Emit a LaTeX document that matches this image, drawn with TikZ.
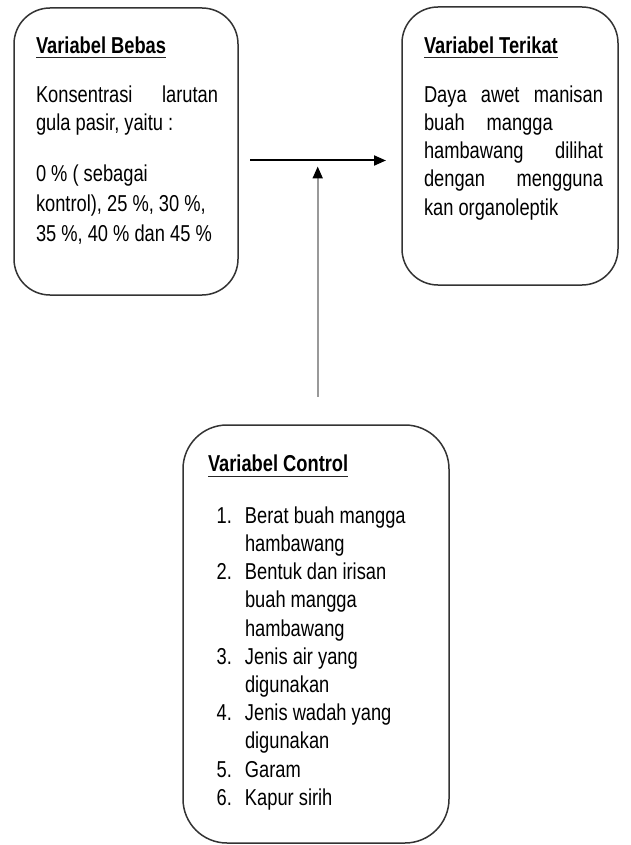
\documentclass[tikz,border=0pt]{standalone}
\usepackage{fontspec}
\setmainfont{Liberation Sans}[FakeStretch=0.795]
\usetikzlibrary{arrows.meta}
\begin{document}
\begin{tikzpicture}[x=1pt,y=1pt,
  box/.style={draw=black!80, line width=1.5pt, rounded corners=#1, inner sep=0pt, outer sep=0pt, anchor=north west},
  txt/.style={inner sep=0pt, outer sep=0pt, anchor=base west, font=\fontsize{23}{28.2}\selectfont},
  ttl/.style={txt, font=\fontsize{23}{28.2}\selectfont\bfseries},
  uline/.style={line width=1.5pt, black!85},
  harrow/.style={line width=2pt, -{Triangle[length=12pt,width=10pt]}},
  varrow/.style={line width=2pt, black!40, -{Triangle[length=12pt,width=10pt,color=black]}}
]
\useasboundingbox (0,0) rectangle (630,-845);
\fill[white] (0,0) rectangle (630,-845);

% boxes
\node[box=36pt, minimum width=224pt, minimum height=287pt] (bebas) at (14,-8) {};
\node[box=36pt, minimum width=216pt, minimum height=278pt] (terikat) at (402,-7) {};
\node[box=44pt, minimum width=266pt, minimum height=418pt] (control) at (183,-425) {};

% Variabel Bebas
\node[ttl] (t1) at (36,-53.3) {Variabel Bebas};
\draw[uline] ([yshift=-4pt]t1.base west) -- ([yshift=-4pt]t1.base east);
\node[txt] (b1) at (36,-102.3) {\begin{tabular}[t]{@{}l@{}}\hbox to 182pt{Konsentrasi\hfill larutan}\\ gula pasir, yaitu :\end{tabular}};
\node[txt, font=\fontsize{23}{29.5}\selectfont] (b2) at (36,-182) {\begin{tabular}[t]{@{}l@{}}0 \% ( sebagai\\ kontrol), 25 \%, 30 \%,\\ 35 \%, 40 \% dan 45 \%\end{tabular}};

% Variabel Terikat
\node[ttl] (t2) at (424,-53.3) {Variabel Terikat};
\draw[uline] ([yshift=-4pt]t2.base west) -- ([yshift=-4pt]t2.base east);
\node[txt] (d1) at (424,-102.3) {\begin{tabular}[t]{@{}l@{}}\hbox to 179pt{Daya\hfill awet\hfill manisan}\\
 \hbox to 179pt{buah\hskip 22pt mangga\hfill}\\
 \hbox to 179pt{hambawang\hfill dilihat}\\
 \hbox to 179pt{dengan\hfill mengguna}\\
 kan organoleptik\end{tabular}};

% Variabel Control
\node[ttl] (t3) at (208,-471.7) {Variabel Control};
\draw[uline] ([yshift=-5pt]t3.base west) -- ([yshift=-5pt]t3.base east);
\node[txt] (c1) at (216.7,-523.3) {\begin{tabular}[t]{@{}p{28.3pt}@{}l@{}}
1. & Berat buah mangga\\
   & hambawang\\
2. & Bentuk dan irisan\\
   & buah mangga\\
   & hambawang\\
3. & Jenis air yang\\
   & digunakan\\
4. & Jenis wadah yang\\
   & digunakan\\
5. & Garam\\
6. & Kapur sirih\end{tabular}};

% connectors
\coordinate (h1) at (250,-160.5);
\coordinate (h2) at (386,-160.5);
\coordinate (v1) at (317.7,-396.5);
\coordinate (v2) at (317.7,-166.5);
\draw[harrow] (h1) -- (h2);
\draw[varrow] (v1) -- (v2);
\end{tikzpicture}
\end{document}
